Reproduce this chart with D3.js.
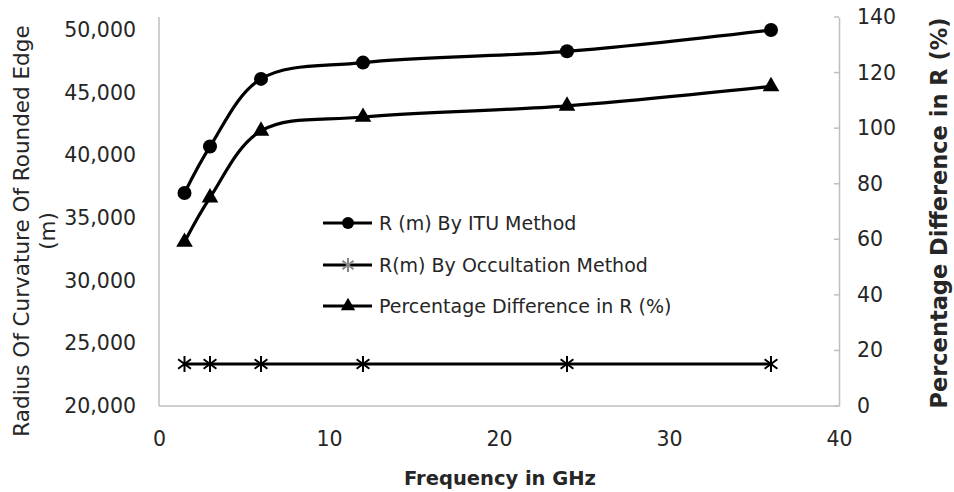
<!DOCTYPE html>
<html><head><meta charset="utf-8">
<script src="https://cdn.jsdelivr.net/npm/d3@7"></script>
<style>body{margin:0;background:#fff}svg{display:block}text{font-family:"DejaVu Sans",sans-serif;fill:#262626}</style>
</head><body><svg id="c" width="954" height="492"></svg>
<script>
const freq = [1.5, 3, 6, 12, 24, 36];
const ituR = [37000, 40700, 46100, 47400, 48300, 50000];
const occR = [23350, 23350, 23350, 23350, 23350, 23350];
const pctDiff = [59, 75, 99, 104, 108, 115];
const xTicks = [0, 10, 20, 30, 40];
const yLeftTicks = [20000, 25000, 30000, 35000, 40000, 45000, 50000];
const yRightTicks = [0, 20, 40, 60, 80, 100, 120, 140];
const legendLabels = ["R (m) By ITU Method", "R(m) By Occultation Method", "Percentage Difference in R (%)"];

const svg = d3.select("#c");
const L = 159, R = 839, T = 17, B = 406;
const x = d3.scaleLinear().domain([0, 40]).range([L, R]);
const yL = d3.scaleLinear().domain([20000, 50000]).range([B, 30]);
const yR = d3.scaleLinear().domain([0, 140]).range([B, T]);
const grey = "#bfbfbf";
const fs = "20.5px";

// frame
svg.append("line").attr("x1", L).attr("x2", L).attr("y1", T).attr("y2", B).attr("stroke", grey).attr("stroke-width", 1.5);
svg.append("line").attr("x1", L).attr("x2", R).attr("y1", B).attr("y2", B).attr("stroke", grey).attr("stroke-width", 1.5);

// right axis
const ra = svg.append("g").attr("transform", `translate(${R},0)`)
  .call(d3.axisRight(yR).tickValues(yRightTicks).tickSize(0).tickPadding(18).tickFormat(d3.format("d")));
ra.select(".domain").attr("stroke", grey).attr("stroke-width", 1.5);
ra.selectAll("text").style("font-size", fs).attr("fill", "#262626");
svg.append("g").selectAll("line").data(yRightTicks).join("line")
  .attr("x1", R - 5).attr("x2", R).attr("y1", d => yR(d)).attr("y2", d => yR(d)).attr("stroke", grey).attr("stroke-width", 1.5);

// left axis labels
const la = svg.append("g").attr("transform", `translate(${L},0)`)
  .call(d3.axisLeft(yL).tickValues(yLeftTicks).tickSize(0).tickPadding(23).tickFormat(d3.format(",")));
la.select(".domain").remove();
la.selectAll("text").style("font-size", fs).attr("fill", "#262626");

// bottom labels
const ba = svg.append("g").attr("transform", `translate(0,${B})`)
  .call(d3.axisBottom(x).tickValues(xTicks).tickSize(0).tickPadding(25).tickFormat(d3.format("d")));
ba.select(".domain").remove();
ba.selectAll("text").style("font-size", fs).attr("fill", "#262626");

// titles
svg.append("text").attr("x", 500).attr("y", 485).attr("text-anchor", "middle")
  .style("font-size", "19.5px").style("font-weight", "bold").text("Frequency in GHz");
const lt = svg.append("text").attr("transform", "translate(29,231) rotate(-90)").attr("text-anchor", "middle").style("font-size", "21.5px");
lt.append("tspan").attr("x", 0).attr("dy", 0).text("Radius Of Curvature Of Rounded Edge");
lt.append("tspan").attr("x", 0).attr("dy", 26).text("(m)");
svg.append("text").attr("transform", "translate(947,213) rotate(-90)").attr("text-anchor", "middle")
  .style("font-size", "22.5px").style("font-weight", "bold").text("Percentage Difference in R (%)");

const curve = d3.curveCatmullRom.alpha(0.5);
function series(vals, ys) {
  const pts = freq.map((f, i) => [x(f), ys(vals[i])]);
  svg.append("path").attr("d", d3.line().curve(curve)(pts)).attr("fill", "none").attr("stroke", "#000").attr("stroke-width", 3.2);
  return pts;
}
function star(g, cx, cy, s, col) {
  const p = `M${cx},${cy - s}V${cy + s}M${cx - s * 0.8},${cy - s * 0.6}L${cx + s * 0.8},${cy + s * 0.6}M${cx + s * 0.8},${cy - s * 0.6}L${cx - s * 0.8},${cy + s * 0.6}`;
  g.append("path").attr("d", p).attr("stroke", col).attr("stroke-width", 2).attr("fill", "none");
}
const occPts = series(occR, yL);
occPts.forEach(p => star(svg, p[0], p[1], 8, "#000"));
const pctPts = series(pctDiff, yR);
const tri = d3.symbol().type(d3.symbolTriangle).size(120);
svg.append("g").selectAll("path").data(pctPts).join("path")
  .attr("d", tri).attr("transform", p => `translate(${p[0]},${p[1]})`).attr("fill", "#000");
const ituPts = series(ituR, yL);
svg.append("g").selectAll("circle").data(ituPts).join("circle")
  .attr("cx", p => p[0]).attr("cy", p => p[1]).attr("r", 7).attr("fill", "#000");

// legend
const lg = svg.append("g");
const ly = [223, 265, 306];
legendLabels.forEach((lab, i) => {
  lg.append("line").attr("x1", 323).attr("x2", 372).attr("y1", ly[i]).attr("y2", ly[i]).attr("stroke", "#000").attr("stroke-width", 3);
  if (i === 0) lg.append("circle").attr("cx", 348).attr("cy", ly[i]).attr("r", 6).attr("fill", "#000");
  if (i === 1) star(lg, 348, ly[i], 7, "#888");
  if (i === 2) lg.append("path").attr("d", d3.symbol().type(d3.symbolTriangle).size(90)).attr("transform", `translate(348,${ly[i]})`).attr("fill", "#000");
  lg.append("text").attr("x", 379).attr("y", ly[i]).attr("dy", "0.35em").style("font-size", "19px").text(lab);
});
</script></body></html>
